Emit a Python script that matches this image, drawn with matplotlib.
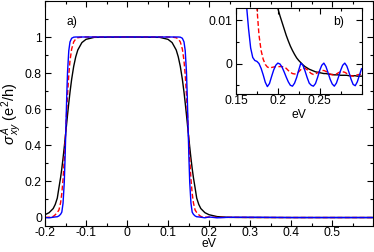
import matplotlib
matplotlib.use("Agg")
import matplotlib.pyplot as plt
from matplotlib.ticker import MultipleLocator, FuncFormatter

plt.rcParams['font.family'] = ['Liberation Sans', 'DejaVu Sans']
plt.rcParams['axes.unicode_minus'] = False
plt.rcParams['mathtext.fontset'] = 'custom'
plt.rcParams['mathtext.rm'] = 'Liberation Sans'
plt.rcParams['mathtext.it'] = 'Liberation Sans:italic'

# ---- main panel data (energy in eV) ----
main_x = [-0.20, -0.19, -0.18, -0.175, -0.17, -0.166, -0.162, -0.159, -0.156, -0.153,
          -0.151, -0.149, -0.147, -0.145, -0.142, -0.139, -0.135, -0.13, -0.125, -0.12,
          -0.11, -0.10, -0.08, 0.0, 0.08, 0.10, 0.11, 0.12, 0.125, 0.13,
          0.135, 0.139, 0.142, 0.145, 0.147, 0.149, 0.151, 0.153, 0.156, 0.159,
          0.162, 0.166, 0.17, 0.175, 0.18, 0.19, 0.20, 0.22, 0.25, 0.30,
          0.40, 0.50, 0.60]
main_blue = [-0.003, -0.0045, -0.0012, 0.0004, 0.0014, 0.006, 0.015, 0.027, 0.076, 0.193,
             0.33, 0.5, 0.67, 0.807, 0.924, 0.973, 0.993, 0.999, 1.0, 1.0,
             1.0, 1.0, 1.0, 1.0, 1.0, 1.0, 1.0, 1.0, 1.0, 0.999,
             0.993, 0.973, 0.924, 0.807, 0.67, 0.5, 0.33, 0.193, 0.076, 0.027,
             0.015, 0.006, 0.0014, 0.0004, -0.0012, -0.0045, 0.0001, -0.0045, -0.0016, -0.0012,
             -0.003, -0.003, -0.003]
main_red = [-0.003, -0.001, 0.003, 0.0125, 0.025, 0.039, 0.079, 0.131, 0.211, 0.320,
            0.407, 0.5, 0.593, 0.680, 0.789, 0.869, 0.933, 0.973, 0.989, 0.996,
            0.9994, 1.0, 1.0, 1.0, 1.0, 1.0, 0.9994, 0.996, 0.989, 0.973,
            0.933, 0.869, 0.789, 0.680, 0.593, 0.5, 0.407, 0.320, 0.211, 0.131,
            0.079, 0.039, 0.025, 0.0125, 0.003, -0.001, -0.0007, -0.0024, -0.0018, -0.0025,
            -0.003, -0.003, -0.003]
main_black = [0.0127, 0.024, 0.047, 0.07, 0.105, 0.163, 0.219, 0.269, 0.326, 0.389,
              0.432, 0.477, 0.523, 0.568, 0.633, 0.694, 0.765, 0.837, 0.890, 0.928,
              0.969, 0.987, 0.998, 1.0, 0.998, 0.987, 0.969, 0.928, 0.890, 0.837,
              0.765, 0.694, 0.633, 0.568, 0.523, 0.477, 0.432, 0.389, 0.326, 0.269,
              0.219, 0.163, 0.105, 0.07, 0.047, 0.024, 0.0127, 0.0021, -0.0021, -0.0029,
              -0.003, -0.003, -0.003]

# ---- inset data (right band edge tail) ----
inset_x = [0.150, 0.1525, 0.155, 0.1575, 0.160, 0.1625, 0.165, 0.1675, 0.170, 0.1725,
           0.175, 0.1775, 0.180, 0.1825, 0.185, 0.1875, 0.190, 0.1925, 0.195, 0.1975,
           0.200, 0.2025, 0.205, 0.2075, 0.210, 0.2125, 0.215, 0.2175, 0.220, 0.2225,
           0.225, 0.2275, 0.230, 0.2325, 0.235, 0.2375, 0.240, 0.2425, 0.245, 0.2475,
           0.250, 0.2525, 0.255, 0.2575, 0.260, 0.2625, 0.265, 0.2675, 0.270, 0.2725,
           0.275, 0.2775, 0.280, 0.2825, 0.285, 0.2875, 0.290, 0.2925, 0.295, 0.2975,
           0.300]
inset_blue = [0.41, 0.22, 0.10, 0.045, 0.022, 0.0135, 0.0080, 0.0036, 0.0014, 0.0007,
              0.0005, 0.0000, -0.0011, -0.0026, -0.0043, -0.0053, -0.0046, -0.0030, -0.0015, -0.0004,
              0.0001, -0.0001, -0.0008, -0.0019, -0.0031, -0.0042, -0.0050, -0.0052, -0.0045, -0.0032,
              -0.0015, 0.0001, -0.0004, -0.0017, -0.0032, -0.0045, -0.0050, -0.0052, -0.0046, -0.0032,
              -0.0016, -0.0004, 0.0001, -0.0007, -0.0021, -0.0036, -0.0047, -0.0052, -0.0045, -0.0031,
              -0.0016, -0.0004, 0.0001, -0.0006, -0.0020, -0.0036, -0.0048, -0.0051, -0.0042, -0.0027,
              -0.0012]
inset_red = [0.45, 0.37, 0.29, 0.22, 0.16, 0.115, 0.08, 0.055, 0.036, 0.022,
             0.0128, 0.0065, 0.0030, 0.0010, -0.0002, -0.0008, -0.0010, -0.0009, -0.0008, -0.0007,
             -0.0007, -0.0007, -0.0007, -0.0008, -0.0011, -0.0016, -0.0020, -0.0023, -0.0024, -0.0023,
             -0.0019, -0.0014, -0.0011, -0.0011, -0.0014, -0.0019, -0.0023, -0.0025, -0.0024, -0.0021,
             -0.0018, -0.0016, -0.0016, -0.0018, -0.0021, -0.0024, -0.0026, -0.0026, -0.0024, -0.0021,
             -0.0019, -0.0019, -0.0020, -0.0023, -0.0026, -0.0028, -0.0029, -0.0028, -0.0026, -0.0025,
             -0.0025]
inset_black = [0.46, 0.41, 0.36, 0.31, 0.27, 0.23, 0.19, 0.155, 0.12, 0.09,
               0.07, 0.058, 0.047, 0.039, 0.032, 0.027, 0.024, 0.020, 0.0175, 0.015,
               0.0127, 0.011, 0.0095, 0.0080, 0.0065, 0.0052, 0.0040, 0.0030, 0.0021, 0.0013,
               0.0007, 0.0002, -0.0003, -0.0007, -0.0010, -0.0013, -0.0015, -0.0017, -0.0019, -0.0020,
               -0.0021, -0.0022, -0.0023, -0.0023, -0.0024, -0.0025, -0.0025, -0.0026, -0.0026, -0.0026,
               -0.0027, -0.0027, -0.0027, -0.0027, -0.0028, -0.0028, -0.0028, -0.0028, -0.0029, -0.0029,
               -0.0029]

main_xticks = [-0.2, -0.1, 0.0, 0.1, 0.2, 0.3, 0.4, 0.5]
main_yticks = [0.0, 0.2, 0.4, 0.6, 0.8, 1.0]
inset_xticks = [0.15, 0.2, 0.25]
inset_yticks = [0.0, 0.01]

fmt = FuncFormatter(lambda v, p: '%g' % round(v, 6))
FS = 8.7

fig = plt.figure(figsize=(3.74, 2.52), dpi=100)
ax = fig.add_axes([45/374, 26/252, 328/374, 225/252])

dash = (0, (3.5, 1.8))
lw = 1.0
ax.plot(main_x, main_black, color='black', lw=lw)
ax.plot(main_x, main_red, color='#ff0000', lw=lw, linestyle=dash)
ax.plot(main_x, main_blue, color='#0000ff', lw=lw)

ax.set_xlim(-0.2, 0.6)
ax.set_ylim(-0.05, 1.2)
ax.set_xticks(main_xticks)
ax.set_yticks(main_yticks)
ax.xaxis.set_minor_locator(MultipleLocator(0.05))
ax.yaxis.set_minor_locator(MultipleLocator(0.1))
ax.xaxis.set_major_formatter(fmt)
ax.yaxis.set_major_formatter(fmt)
ax.tick_params(which='both', direction='in', top=True, right=True, labelsize=FS)
ax.tick_params(axis='x', which='both', pad=0.8)
ax.tick_params(axis='y', which='both', pad=2.2)
ax.tick_params(which='major', length=4, width=0.8)
ax.tick_params(which='minor', length=2.5, width=0.8)
ax.set_xlabel('eV', fontsize=FS, labelpad=-0.8)
ax.set_ylabel(r'$\sigma^{\,A}_{\,xy}$ (e$^2$/h)', fontsize=10.5, labelpad=1)
ax.text(0.067, 0.907, 'a)', transform=ax.transAxes, fontsize=FS, ha='left', va='center')

# ---- inset ----
ins = fig.add_axes([236/374, (252-94)/252, 125.5/374, 85.7/252])
ins.plot(inset_x, inset_black, color='black', lw=lw)
ins.plot(inset_x, inset_red, color='#ff0000', lw=lw, linestyle=dash)
ins.plot(inset_x, inset_blue, color='#0000ff', lw=lw)
ins.set_xlim(0.15, 0.30)
ins.set_ylim(-0.007, 0.0127)
ins.set_xticks(inset_xticks)
ins.set_yticks(inset_yticks)
ins.xaxis.set_minor_locator(MultipleLocator(0.025))
ins.yaxis.set_minor_locator(MultipleLocator(0.005))
ins.xaxis.set_major_formatter(fmt)
ins.yaxis.set_major_formatter(fmt)
ins.tick_params(which='both', direction='in', top=True, right=True, labelsize=FS)
ins.tick_params(axis='x', which='both', pad=0.6)
ins.tick_params(axis='y', which='both', pad=2.8)
ins.tick_params(which='major', length=4, width=0.8)
ins.tick_params(which='minor', length=2.5, width=0.8)
ins.set_xlabel('eV', fontsize=FS, labelpad=1.2)
ins.text(0.775, 0.836, 'b)', transform=ins.transAxes, fontsize=FS, ha='left', va='center')

fig.savefig('out.png', dpi=100)
